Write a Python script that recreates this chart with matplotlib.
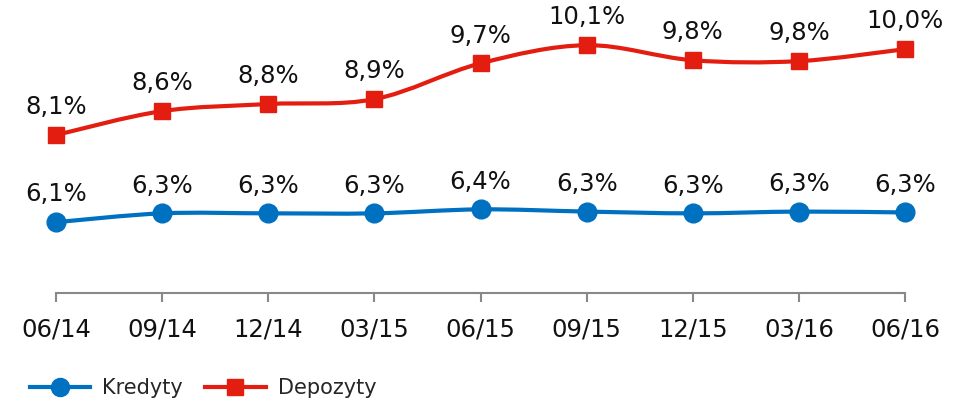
import numpy as np
import matplotlib
matplotlib.use('Agg')
import matplotlib.pyplot as plt
from matplotlib.path import Path
from matplotlib.patches import PathPatch
from matplotlib.lines import Line2D

# data
quarters = ['06/14', '09/14', '12/14', '03/15', '06/15', '09/15', '12/15', '03/16', '06/16']
kredyty = [6.10, 6.30, 6.30, 6.30, 6.39, 6.34, 6.30, 6.34, 6.32]
kredyty_labels = ['6,1%', '6,3%', '6,3%', '6,3%', '6,4%', '6,3%', '6,3%', '6,3%', '6,3%']
depozyty = [8.07, 8.61, 8.77, 8.88, 9.69, 10.10, 9.76, 9.74, 10.01]
depozyty_labels = ['8,1%', '8,6%', '8,8%', '8,9%', '9,7%', '10,1%', '9,8%', '9,8%', '10,0%']

blue = '#0070C0'
red = '#E31E10'

plt.rcParams['font.family'] = ['DejaVu Sans']


def smooth_path(xs, ys):
    # Catmull-Rom style bezier, like the smoothed lines in spreadsheet charts
    pts = np.column_stack([xs, ys])
    n = len(pts)
    verts = [pts[0]]
    codes = [Path.MOVETO]
    for i in range(n - 1):
        p0 = pts[i - 1] if i > 0 else pts[i]
        p1 = pts[i]
        p2 = pts[i + 1]
        p3 = pts[i + 2] if i + 2 < n else pts[i + 1]
        c1 = p1 + (p2 - p0) / 6
        c2 = p2 - (p3 - p1) / 6
        verts += [c1, c2, p2]
        codes += [Path.CURVE4] * 3
    return Path(verts, codes)


fig = plt.figure(figsize=(9.64, 4.03), dpi=100)
ax = fig.add_axes([56 / 964, 110 / 403, 849 / 964, 293 / 403])

x = np.arange(len(quarters))

for vals, labels, col, mk, ms in [(kredyty, kredyty_labels, blue, 'o', 13.5),
                                  (depozyty, depozyty_labels, red, 's', 12)]:
    ax.add_patch(PathPatch(smooth_path(x, vals), facecolor='none', edgecolor=col,
                           lw=3, capstyle='round', clip_on=False, zorder=2))
    ax.plot(x, vals, ls='none', marker=mk, ms=ms, color=col, clip_on=False, zorder=3)
    for xi, v, lab in zip(x, vals, labels):
        ax.annotate(lab, (xi, v), xytext=(0, 20), textcoords='offset points',
                    ha='center', va='center', fontsize=17.5, color='#111111')

ax.set_xlim(0, 8)
ax.set_ylim(4.5, 4.5 + 293 / 44.25)
ax.set_xticks(x)
ax.set_xticklabels(quarters, fontsize=17.5, color='#111111')
ax.set_yticks([])
for s in ['top', 'right', 'left']:
    ax.spines[s].set_visible(False)
ax.spines['bottom'].set_color('#888888')
ax.spines['bottom'].set_linewidth(1.5)
ax.tick_params(axis='x', direction='out', length=6.5, width=1.5, color='#888888', pad=11)

handles = [Line2D([], [], color=blue, lw=3, marker='o', ms=13),
           Line2D([], [], color=red, lw=3, marker='s', ms=11)]
fig.legend(handles, ['Kredyty', 'Depozyty'], loc='center left',
           bbox_to_anchor=(30 / 964, 15 / 403), ncol=2, frameon=False,
           fontsize=15, handlelength=2.9, handletextpad=0.58, columnspacing=1.05,
           borderpad=0, borderaxespad=0, labelcolor='#262626')

fig.savefig('out.png', dpi=100)
